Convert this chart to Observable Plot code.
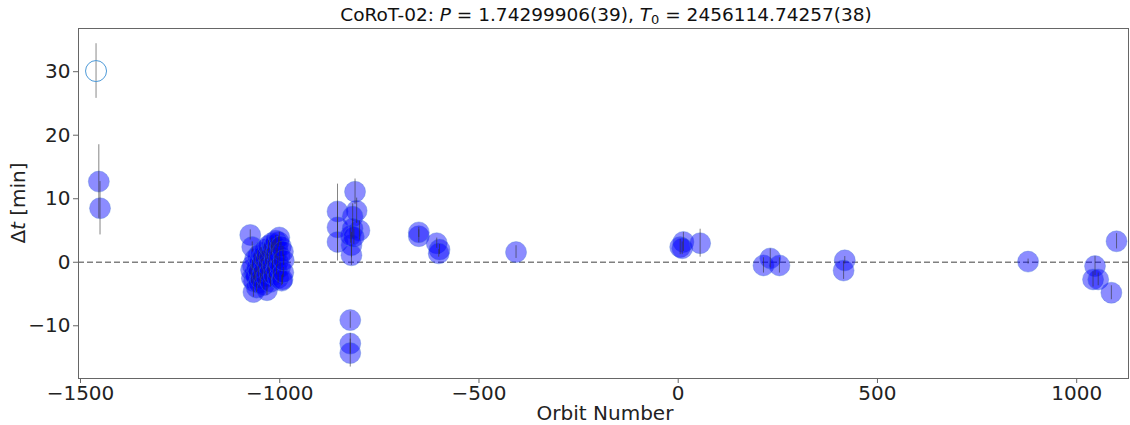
<!DOCTYPE html>
<html><head><meta charset="utf-8">
<script src="https://cdn.jsdelivr.net/npm/d3@7"></script>
<script src="https://cdn.jsdelivr.net/npm/@observablehq/plot@0.6"></script>
<style>
body{margin:0;background:#fff;font-family:"DejaVu Sans",sans-serif;}
#title{height:27px;width:1130px;position:relative;}
#title span{position:absolute;left:606px;top:4px;transform:translateX(-50%);font-size:18.5px;white-space:nowrap;color:#111;line-height:22px;}
#title sub{font-size:13px;vertical-align:-3px;line-height:0;}
#chart{width:1130px;height:398px;}
</style></head><body>
<div id="title"><span>CoRoT-02: <i>P</i> = 1.74299906(39), <i>T</i><sub>0</sub> = 2456114.74257(38)</span></div>
<div id="chart"></div>
<script>
// Orbit numbers, timing residuals (min) and their uncertainties (min)
const orbit = [
  -1454, -1451,
  -1074, -1069, -1066, -1072, -1070, -1068, -1065, -1063, -1062, -1060, -1058, -1057, -1055, -1053, -1052, -1050,
  -1048, -1047, -1045, -1044, -1042, -1040, -1039, -1037, -1035, -1034, -1032, -1031, -1029, -1028, -1026, -1025,
  -1023, -1021, -1020, -1018, -1017, -1015, -1014, -1012, -1010, -1009, -1008, -1006, -1005, -1004, -1003, -1001,
  -1000, -999, -997, -995, -993, -992, -991, -990,
  -855, -855, -855, -811, -807, -817, -800, -817, -820, -820, -823, -823, -823, -822, -814,
  -651, -651, -606, -599, -601, -407,
  13, 5, 10, 55, 214, 231, 254, 418, 415, 878, 1046, 1041, 1054, 1087, 1100
];
const dt = [
  12.7, 8.5,
  4.3, 2.4, -4.7, -1.2, -2.5, -0.5, -3.0, -1.8, 0.5, -2.2, -4.0, -0.8, 1.0, -1.5, -3.3, 0.2,
  -2.6, 1.5, -0.3, -1.9, 0.9, -3.6, -1.1, 2.0, 0.4, -2.3, -4.4, 1.2, -0.6, 2.6, -1.7, 0.8,
  -3.1, 1.9, 3.0, -0.4, 2.3, -2.0, 2.7, 0.5, 3.4, 1.4, -1.2, 2.2, 0.1, -2.5, 3.2, 3.9,
  1.0, -0.8, 2.5, -2.9, -2.7, 1.7, -1.6, 0.3,
  8.0, 5.5, 3.2, 11.1, 8.1, 7.2, 5.0, 5.3, 2.7, 1.1, -9.1, -12.8, -14.3, 4.2, 4.0,
  4.1, 4.7, 3.0, 2.0, 1.4, 1.6,
  3.2, 2.4, 2.2, 3.0, -0.5, 0.6, -0.5, 0.3, -1.3, 0.1, -0.6, -2.7, -2.7, -4.8, 3.3
];
const err = [
  5.8, 4.2,
  0.8, 0.8, 0.8, 0.8, 0.8, 0.8, 0.8, 0.8, 0.8, 0.8, 0.8, 0.8, 0.8, 0.8, 0.8, 0.8,
  0.8, 0.8, 0.8, 0.8, 0.8, 0.8, 0.8, 0.8, 0.8, 0.8, 0.8, 0.8, 0.8, 0.8, 0.8, 0.8,
  0.8, 0.8, 0.8, 0.8, 0.8, 0.8, 0.8, 0.8, 0.8, 0.8, 0.8, 0.8, 0.8, 0.8, 0.8, 0.8,
  0.8, 0.8, 0.8, 0.8, 0.8, 0.8, 0.8, 0.8,
  4.3, 4.0, 3.0, 2.0, 2.0, 2.0, 1.5, 1.5, 2.0, 1.6, 1.3, 1.6, 2.2, 1.2, 1.2,
  1.0, 0.8, 0.8, 0.8, 0.6, 1.0,
  1.5, 1.2, 1.0, 2.2, 1.2, 1.5, 1.2, 0.6, 1.4, 0.4, 1.5, 1.2, 1.0, 1.1, 1.2
];
// Rejected (outlier) measurement
const outOrbit = [-1461];
const outDt = [30.1];
const outErr = [4.3];

const xTicks = [-1500, -1000, -500, 0, 500, 1000];
const yTicks = [-10, 0, 10, 20, 30];

const data = orbit.map((o, i) => ({o, d: dt[i], e: err[i]}));
const outData = outOrbit.map((o, i) => ({o, d: outDt[i], e: outErr[i]}));
const fmt = v => (v < 0 ? "\u2212" : "") + Math.abs(v);

const plot = Plot.plot({
  width: 1130, height: 398,
  marginLeft: 78, marginRight: 2, marginTop: 1, marginBottom: 47,
  style: {fontFamily: "DejaVu Sans", fontSize: "20px", color: "#222", background: "#fff"},
  x: {domain: [-1505, 1130]},
  y: {domain: [-18.3, 36.8]},
  marks: [
    Plot.ruleY([0], {stroke: "#808080", strokeWidth: 1.4, strokeDasharray: "6,3"}),
    Plot.dot(data, {x: "o", y: "d", r: 10.5, fill: "blue", fillOpacity: 0.45, stroke: "#4a7fd0", strokeOpacity: 0.35, strokeWidth: 1}),
    Plot.ruleX(data, {x: "o", y1: d => d.d - d.e, y2: d => d.d + d.e, stroke: "#333", strokeOpacity: 0.6, strokeWidth: 1}),
    Plot.ruleX(outData, {x: "o", y1: d => d.d - d.e, y2: d => d.d + d.e, stroke: "#555", strokeOpacity: 0.7, strokeWidth: 1}),
    Plot.dot(outData, {x: "o", y: "d", r: 10.5, fill: "none", stroke: "#4d9ad8", strokeWidth: 1}),
    Plot.frame({stroke: "#666", strokeWidth: 1}),
    Plot.axisX({ticks: xTicks, tickFormat: fmt, tickSize: 5, tickPadding: 2, label: null, stroke: "#666", fontSize: 20}),
    Plot.axisY({ticks: yTicks, tickFormat: fmt, tickSize: 5, tickPadding: 3, label: null, stroke: "#666", fontSize: 20})
  ]
});
document.getElementById("chart").appendChild(plot);

const svg = d3.select(plot);
svg.append("text")
  .attr("x", 605).attr("y", 393)
  .attr("text-anchor", "middle")
  .attr("font-size", 20).attr("fill", "#222")
  .text("Orbit Number");
const yl = svg.append("text")
  .attr("transform", "translate(19,176) rotate(-90)")
  .attr("text-anchor", "middle")
  .attr("dominant-baseline", "middle")
  .attr("font-size", 20).attr("fill", "#222");
yl.append("tspan").text("Δ");
yl.append("tspan").attr("font-style", "italic").text("t");
yl.append("tspan").text(" [min]");
</script>
</body></html>
